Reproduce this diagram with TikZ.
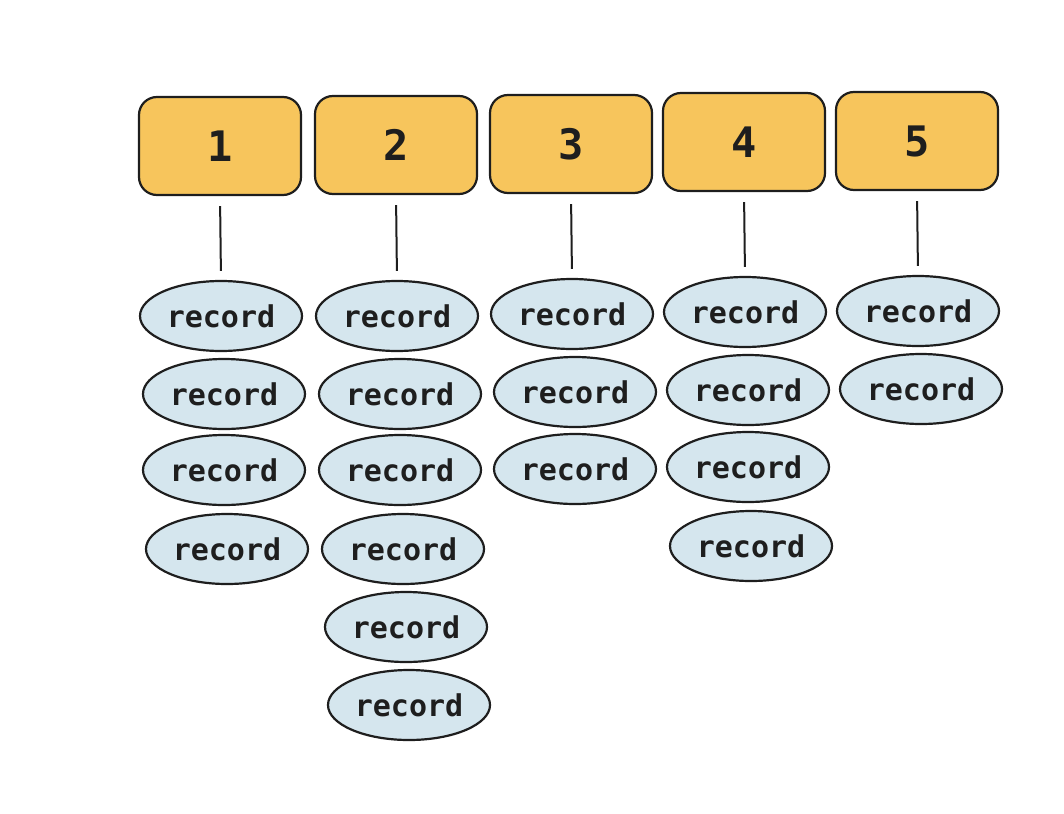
\documentclass[tikz,border=0pt]{standalone}
\usepackage{fontspec}
\setmonofont{DejaVu Sans Mono}
\usepackage{tikz}
\usetikzlibrary{shapes,positioning}

\definecolor{boxfill}{HTML}{F7C55C}
\definecolor{recfill}{HTML}{D5E6EE}
\definecolor{ink}{HTML}{1E1E1E}

\begin{document}
\begin{tikzpicture}[
    x=0.5pt, y=-0.5pt,
    bucket/.style={rectangle, draw=ink, line width=1.1pt, fill=boxfill, minimum width=81pt, minimum height=49pt, rounded corners=9pt, font=\fontsize{21}{24}\selectfont\ttfamily\bfseries, text=ink},
    record/.style={ellipse, draw=ink, line width=1.1pt, fill=recfill, minimum width=81pt, minimum height=35pt, inner sep=0pt, font=\fontsize{15}{18}\selectfont\ttfamily\bfseries, text=ink},
    link/.style={draw=ink, line width=1pt, shorten <=5pt, shorten >=4.5pt}
]
\useasboundingbox (0,0) rectangle (1064,813);

\node[bucket] (b1) at (220,146) {1};
\node[bucket] (b2) at (396,145) {2};
\node[bucket] (b3) at (571,144) {3};
\node[bucket] (b4) at (744,142) {4};
\node[bucket] (b5) at (917,141) {5};

% bucket 1
\node[record] (r11) at (221,316) {record};
\node[record] (r12) at (224,394) {record};
\node[record] (r13) at (224,470) {record};
\node[record] (r14) at (227,549) {record};

% bucket 2
\node[record] (r21) at (397,316) {record};
\node[record] (r22) at (400,394) {record};
\node[record] (r23) at (400,470) {record};
\node[record] (r24) at (403,549) {record};
\node[record] (r25) at (406,627) {record};
\node[record] (r26) at (409,705) {record};

% bucket 3
\node[record] (r31) at (572,314) {record};
\node[record] (r32) at (575,392) {record};
\node[record] (r33) at (575,469) {record};

% bucket 4
\node[record] (r41) at (745,312) {record};
\node[record] (r42) at (748,390) {record};
\node[record] (r43) at (748,467) {record};
\node[record] (r44) at (751,546) {record};

% bucket 5
\node[record] (r51) at (918,311) {record};
\node[record] (r52) at (921,389) {record};

\draw[link] (b1.south) -- (r11.north);
\draw[link] (b2.south) -- (r21.north);
\draw[link] (b3.south) -- (r31.north);
\draw[link] (b4.south) -- (r41.north);
\draw[link] (b5.south) -- (r51.north);

\end{tikzpicture}
\end{document}
